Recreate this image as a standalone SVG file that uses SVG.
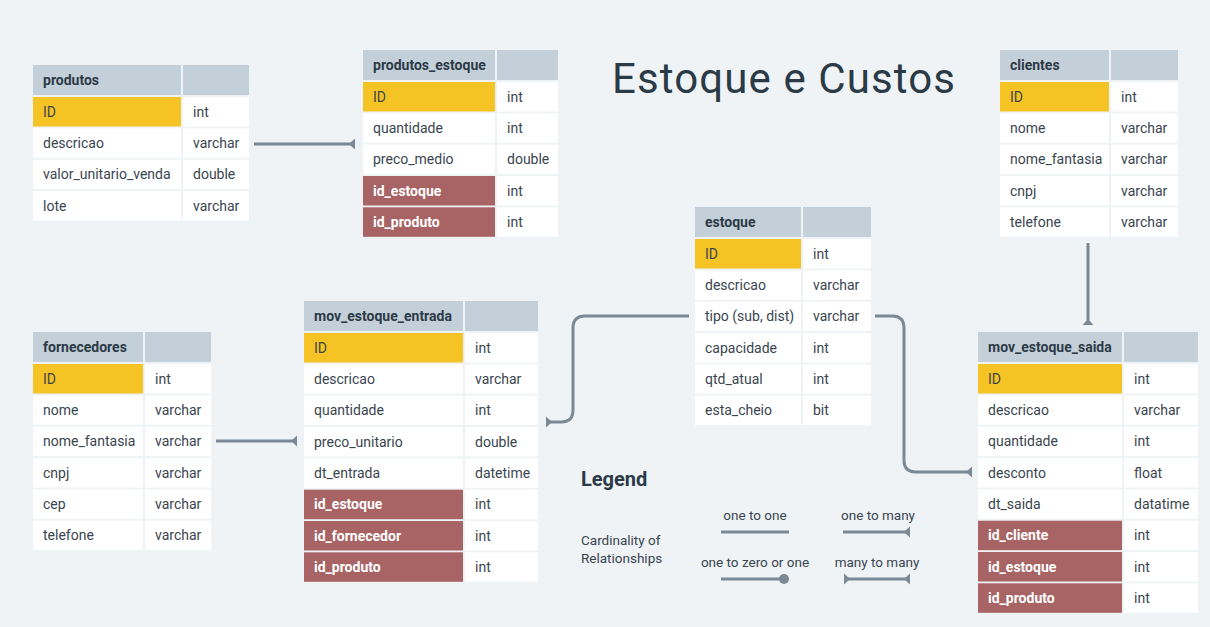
<svg xmlns="http://www.w3.org/2000/svg" width="1210" height="627" viewBox="0 0 1210 627">
<style>
text{font-family:Roboto,"Noto Sans","Liberation Sans",sans-serif;}
.hd{fill:#c4d0d9;}
.c{fill:#ffffff;}
.pk{fill:#f6c324;}
.fk{fill:#a86464;}
.ht{font-size:14px;font-weight:bold;fill:#2c3a47;}
.t{font-size:14px;fill:#3a4550;}
.ft{font-size:14px;font-weight:bold;fill:#ffffff;}
.ln{fill:none;stroke:#7b8996;stroke-width:3;}
.lg{font-size:13.5px;fill:#3a4550;}
</style>
<defs>
<marker id="many" viewBox="-7 -6 8 12" refX="0" refY="0" markerWidth="8" markerHeight="12" markerUnits="userSpaceOnUse" orient="auto-start-reverse">
<path d="M0,-5.5 L0,5.5 L-6,0 Z" fill="#7b8996"/>
</marker>
</defs>
<rect width="1210" height="627" fill="#eff3f6"/>

<text x="612" y="93" font-size="42" fill="#2b3a47" textLength="343">Estoque e Custos</text>

<g id="produtos">
<rect class="hd" x="33" y="65" width="148" height="30"/><rect class="hd" x="183" y="65" width="66" height="30"/>
<text class="ht" x="43" y="85">produtos</text>
<rect class="pk" x="33" y="97" width="148" height="29.5"/><rect class="c" x="183" y="97" width="66" height="29.5"/>
<text class="t" x="43" y="116.5">ID</text><text class="t" x="193" y="116.5">int</text>
<rect class="c" x="33" y="128.3" width="148" height="29.5"/><rect class="c" x="183" y="128.3" width="66" height="29.5"/>
<text class="t" x="43" y="147.8">descricao</text><text class="t" x="193" y="147.8">varchar</text>
<rect class="c" x="33" y="159.7" width="148" height="29.5"/><rect class="c" x="183" y="159.7" width="66" height="29.5"/>
<text class="t" x="43" y="179.2">valor_unitario_venda</text><text class="t" x="193" y="179.2">double</text>
<rect class="c" x="33" y="191" width="148" height="29.5"/><rect class="c" x="183" y="191" width="66" height="29.5"/>
<text class="t" x="43" y="210.5">lote</text><text class="t" x="193" y="210.5">varchar</text>
</g>

<g id="produtos_estoque">
<rect class="hd" x="363" y="50" width="132" height="30"/><rect class="hd" x="497" y="50" width="61" height="30"/>
<text class="ht" x="373" y="70">produtos_estoque</text>
<rect class="pk" x="363" y="82" width="132" height="29.5"/><rect class="c" x="497" y="82" width="61" height="29.5"/>
<text class="t" x="373" y="101.5">ID</text><text class="t" x="507" y="101.5">int</text>
<rect class="c" x="363" y="113.3" width="132" height="29.5"/><rect class="c" x="497" y="113.3" width="61" height="29.5"/>
<text class="t" x="373" y="132.8">quantidade</text><text class="t" x="507" y="132.8">int</text>
<rect class="c" x="363" y="144.7" width="132" height="29.5"/><rect class="c" x="497" y="144.7" width="61" height="29.5"/>
<text class="t" x="373" y="164.2">preco_medio</text><text class="t" x="507" y="164.2">double</text>
<rect class="fk" x="363" y="176" width="132" height="29.5"/><rect class="c" x="497" y="176" width="61" height="29.5"/>
<text class="ft" x="373" y="195.5">id_estoque</text><text class="t" x="507" y="195.5">int</text>
<rect class="fk" x="363" y="207.3" width="132" height="29.5"/><rect class="c" x="497" y="207.3" width="61" height="29.5"/>
<text class="ft" x="373" y="226.8">id_produto</text><text class="t" x="507" y="226.8">int</text>
</g>

<g id="estoque">
<rect class="hd" x="695" y="207" width="106" height="30"/><rect class="hd" x="803" y="207" width="68" height="30"/>
<text class="ht" x="705" y="227">estoque</text>
<rect class="pk" x="695" y="239" width="106" height="29.5"/><rect class="c" x="803" y="239" width="68" height="29.5"/>
<text class="t" x="705" y="258.5">ID</text><text class="t" x="813" y="258.5">int</text>
<rect class="c" x="695" y="270.3" width="106" height="29.5"/><rect class="c" x="803" y="270.3" width="68" height="29.5"/>
<text class="t" x="705" y="289.8">descricao</text><text class="t" x="813" y="289.8">varchar</text>
<rect class="c" x="695" y="301.7" width="106" height="29.5"/><rect class="c" x="803" y="301.7" width="68" height="29.5"/>
<text class="t" x="705" y="321.2">tipo (sub, dist)</text><text class="t" x="813" y="321.2">varchar</text>
<rect class="c" x="695" y="333" width="106" height="29.5"/><rect class="c" x="803" y="333" width="68" height="29.5"/>
<text class="t" x="705" y="352.5">capacidade</text><text class="t" x="813" y="352.5">int</text>
<rect class="c" x="695" y="364.3" width="106" height="29.5"/><rect class="c" x="803" y="364.3" width="68" height="29.5"/>
<text class="t" x="705" y="383.8">qtd_atual</text><text class="t" x="813" y="383.8">int</text>
<rect class="c" x="695" y="395.7" width="106" height="29.5"/><rect class="c" x="803" y="395.7" width="68" height="29.5"/>
<text class="t" x="705" y="415.2">esta_cheio</text><text class="t" x="813" y="415.2">bit</text>
</g>

<g id="clientes">
<rect class="hd" x="1000" y="50" width="109" height="30"/><rect class="hd" x="1111" y="50" width="67" height="30"/>
<text class="ht" x="1010" y="70">clientes</text>
<rect class="pk" x="1000" y="82" width="109" height="29.5"/><rect class="c" x="1111" y="82" width="67" height="29.5"/>
<text class="t" x="1010" y="101.5">ID</text><text class="t" x="1121" y="101.5">int</text>
<rect class="c" x="1000" y="113.3" width="109" height="29.5"/><rect class="c" x="1111" y="113.3" width="67" height="29.5"/>
<text class="t" x="1010" y="132.8">nome</text><text class="t" x="1121" y="132.8">varchar</text>
<rect class="c" x="1000" y="144.7" width="109" height="29.5"/><rect class="c" x="1111" y="144.7" width="67" height="29.5"/>
<text class="t" x="1010" y="164.2">nome_fantasia</text><text class="t" x="1121" y="164.2">varchar</text>
<rect class="c" x="1000" y="176" width="109" height="29.5"/><rect class="c" x="1111" y="176" width="67" height="29.5"/>
<text class="t" x="1010" y="195.5">cnpj</text><text class="t" x="1121" y="195.5">varchar</text>
<rect class="c" x="1000" y="207.3" width="109" height="29.5"/><rect class="c" x="1111" y="207.3" width="67" height="29.5"/>
<text class="t" x="1010" y="226.8">telefone</text><text class="t" x="1121" y="226.8">varchar</text>
</g>

<g id="fornecedores">
<rect class="hd" x="33" y="332" width="110" height="30"/><rect class="hd" x="145" y="332" width="66" height="30"/>
<text class="ht" x="43" y="352">fornecedores</text>
<rect class="pk" x="33" y="364" width="110" height="29.5"/><rect class="c" x="145" y="364" width="66" height="29.5"/>
<text class="t" x="43" y="383.5">ID</text><text class="t" x="155" y="383.5">int</text>
<rect class="c" x="33" y="395.3" width="110" height="29.5"/><rect class="c" x="145" y="395.3" width="66" height="29.5"/>
<text class="t" x="43" y="414.8">nome</text><text class="t" x="155" y="414.8">varchar</text>
<rect class="c" x="33" y="426.7" width="110" height="29.5"/><rect class="c" x="145" y="426.7" width="66" height="29.5"/>
<text class="t" x="43" y="446.2">nome_fantasia</text><text class="t" x="155" y="446.2">varchar</text>
<rect class="c" x="33" y="458" width="110" height="29.5"/><rect class="c" x="145" y="458" width="66" height="29.5"/>
<text class="t" x="43" y="477.5">cnpj</text><text class="t" x="155" y="477.5">varchar</text>
<rect class="c" x="33" y="489.3" width="110" height="29.5"/><rect class="c" x="145" y="489.3" width="66" height="29.5"/>
<text class="t" x="43" y="508.8">cep</text><text class="t" x="155" y="508.8">varchar</text>
<rect class="c" x="33" y="520.7" width="110" height="29.5"/><rect class="c" x="145" y="520.7" width="66" height="29.5"/>
<text class="t" x="43" y="540.2">telefone</text><text class="t" x="155" y="540.2">varchar</text>
</g>

<g id="mov_estoque_entrada">
<rect class="hd" x="304" y="301" width="159" height="30"/><rect class="hd" x="465" y="301" width="73" height="30"/>
<text class="ht" x="314" y="321">mov_estoque_entrada</text>
<rect class="pk" x="304" y="333" width="159" height="29.5"/><rect class="c" x="465" y="333" width="73" height="29.5"/>
<text class="t" x="314" y="352.5">ID</text><text class="t" x="475" y="352.5">int</text>
<rect class="c" x="304" y="364.3" width="159" height="29.5"/><rect class="c" x="465" y="364.3" width="73" height="29.5"/>
<text class="t" x="314" y="383.8">descricao</text><text class="t" x="475" y="383.8">varchar</text>
<rect class="c" x="304" y="395.7" width="159" height="29.5"/><rect class="c" x="465" y="395.7" width="73" height="29.5"/>
<text class="t" x="314" y="415.2">quantidade</text><text class="t" x="475" y="415.2">int</text>
<rect class="c" x="304" y="427" width="159" height="29.5"/><rect class="c" x="465" y="427" width="73" height="29.5"/>
<text class="t" x="314" y="446.5">preco_unitario</text><text class="t" x="475" y="446.5">double</text>
<rect class="c" x="304" y="458.3" width="159" height="29.5"/><rect class="c" x="465" y="458.3" width="73" height="29.5"/>
<text class="t" x="314" y="477.8">dt_entrada</text><text class="t" x="475" y="477.8">datetime</text>
<rect class="fk" x="304" y="489.7" width="159" height="29.5"/><rect class="c" x="465" y="489.7" width="73" height="29.5"/>
<text class="ft" x="314" y="509.2">id_estoque</text><text class="t" x="475" y="509.2">int</text>
<rect class="fk" x="304" y="521" width="159" height="29.5"/><rect class="c" x="465" y="521" width="73" height="29.5"/>
<text class="ft" x="314" y="540.5">id_fornecedor</text><text class="t" x="475" y="540.5">int</text>
<rect class="fk" x="304" y="552.3" width="159" height="29.5"/><rect class="c" x="465" y="552.3" width="73" height="29.5"/>
<text class="ft" x="314" y="571.8">id_produto</text><text class="t" x="475" y="571.8">int</text>
</g>

<g id="mov_estoque_saida">
<rect class="hd" x="978" y="332" width="144" height="30"/><rect class="hd" x="1124" y="332" width="74" height="30"/>
<text class="ht" x="988" y="352">mov_estoque_saida</text>
<rect class="pk" x="978" y="364" width="144" height="29.5"/><rect class="c" x="1124" y="364" width="74" height="29.5"/>
<text class="t" x="988" y="383.5">ID</text><text class="t" x="1134" y="383.5">int</text>
<rect class="c" x="978" y="395.3" width="144" height="29.5"/><rect class="c" x="1124" y="395.3" width="74" height="29.5"/>
<text class="t" x="988" y="414.8">descricao</text><text class="t" x="1134" y="414.8">varchar</text>
<rect class="c" x="978" y="426.7" width="144" height="29.5"/><rect class="c" x="1124" y="426.7" width="74" height="29.5"/>
<text class="t" x="988" y="446.2">quantidade</text><text class="t" x="1134" y="446.2">int</text>
<rect class="c" x="978" y="458" width="144" height="29.5"/><rect class="c" x="1124" y="458" width="74" height="29.5"/>
<text class="t" x="988" y="477.5">desconto</text><text class="t" x="1134" y="477.5">float</text>
<rect class="c" x="978" y="489.3" width="144" height="29.5"/><rect class="c" x="1124" y="489.3" width="74" height="29.5"/>
<text class="t" x="988" y="508.8">dt_saida</text><text class="t" x="1134" y="508.8">datatime</text>
<rect class="fk" x="978" y="520.7" width="144" height="29.5"/><rect class="c" x="1124" y="520.7" width="74" height="29.5"/>
<text class="ft" x="988" y="540.2">id_cliente</text><text class="t" x="1134" y="540.2">int</text>
<rect class="fk" x="978" y="552" width="144" height="29.5"/><rect class="c" x="1124" y="552" width="74" height="29.5"/>
<text class="ft" x="988" y="571.5">id_estoque</text><text class="t" x="1134" y="571.5">int</text>
<rect class="fk" x="978" y="583.3" width="144" height="29.5"/><rect class="c" x="1124" y="583.3" width="74" height="29.5"/>
<text class="ft" x="988" y="602.8">id_produto</text><text class="t" x="1134" y="602.8">int</text>
</g>

<g id="connectors">
<path class="ln" d="M254,144 H355" marker-end="url(#many)"/>
<path class="ln" d="M216,441 H297" marker-end="url(#many)"/>
<path class="ln" d="M689,316 H585 Q573,316 573,328 V410 Q573,422 561,422 H546" marker-end="url(#many)"/>
<path class="ln" d="M875,316 H892 Q904,316 904,328 V460 Q904,472 916,472 H972" marker-end="url(#many)"/>
<path class="ln" d="M1088,243 V325" marker-end="url(#many)"/>
</g>

<g id="legend">
<text x="581" y="486" font-size="20" font-weight="bold" fill="#2c3a47">Legend</text>
<text class="lg" x="581" y="545">Cardinality of</text>
<text class="lg" x="581" y="563">Relationships</text>
<text class="lg" x="755" y="520" text-anchor="middle">one to one</text>
<path class="ln" d="M721,532 H789"/>
<text class="lg" x="878" y="520" text-anchor="middle">one to many</text>
<path class="ln" d="M843,532 H910" marker-end="url(#many)"/>
<text class="lg" x="755" y="567" text-anchor="middle">one to zero or one</text>
<path class="ln" d="M721,579 H784"/>
<circle cx="784" cy="579" r="5" fill="#7b8996"/>
<text class="lg" x="877" y="567" text-anchor="middle">many to many</text>
<path class="ln" d="M844,579 H910" marker-start="url(#many)" marker-end="url(#many)"/>
</g>
</svg>
